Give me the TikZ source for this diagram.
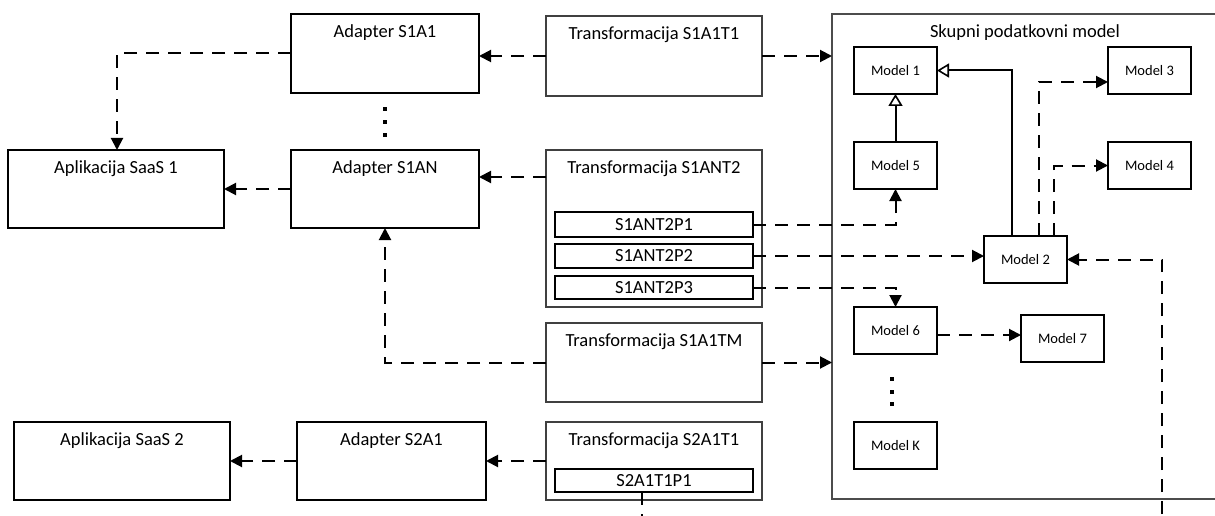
\documentclass[tikz,border=0pt]{standalone}
\usepackage{fontspec}
\setmainfont{Carlito}
\usetikzlibrary{arrows.meta}
\newcommand\bigtxt{\fontsize{18.5pt}{22pt}\selectfont}
\newcommand\smalltxt{\fontsize{14.5pt}{17pt}\selectfont}
\begin{document}
\begin{tikzpicture}[x=1pt,y=-1pt,
  sz/.style 2 args={minimum width=#1pt, minimum height=#2pt},
  basebox/.style={draw, anchor=north west, inner sep=0pt, outer sep=0pt},
  appbox/.style={basebox, line width=1.4pt},
  tbox/.style={basebox, line width=1.3pt, draw=black!75},
  pbox/.style={basebox, line width=1.3pt, font=\bigtxt},
  mbox/.style={basebox, line width=1.8pt, font=\smalltxt, sz={83}{47}},
  bigbox/.style={basebox, line width=1.2pt, draw=black!70},
  titled/.style={label={[anchor=center, yshift=-19pt, font=\bigtxt]north:#1}},
  conn/.style={line width=2pt, dash pattern=on 13pt off 9pt,
    -{Triangle[length=12pt, width=12pt]}},
  inh/.style={line width=2pt, -{Triangle[open, length=12pt, width=14pt, line width=1.6pt]}},
  dot/.style={fill=black}
]
\useasboundingbox (0,0) rectangle (1215,516);
\clip (0,0) rectangle (1215,516);

% applications and adapters
\node[appbox, sz={216}{78}, titled={Aplikacija SaaS 1}] (sa1) at (8,150) {};
\node[appbox, sz={188}{79}, titled={Adapter S1A1}] (a1) at (291,14) {};
\node[appbox, sz={188}{78}, titled={Adapter S1AN}] (aN) at (291,150) {};
\node[appbox, sz={216}{78}, titled={Aplikacija SaaS 2}] (sa2) at (14,422) {};
\node[appbox, sz={189}{78}, titled={Adapter S2A1}] (s2a) at (297,422) {};

% transformations
\node[tbox, sz={216}{80}, titled={Transformacija S1A1T1}] (t1) at (546,16) {};
\node[tbox, sz={216}{157}, titled={Transformacija S1ANT2}] (t2) at (546,150) {};
\node[pbox, sz={198}{25}] (p1) at (555,212) {S1ANT2P1};
\node[pbox, sz={198}{24}] (p2) at (555,244) {S1ANT2P2};
\node[pbox, sz={198}{23}] (p3) at (555,276) {S1ANT2P3};
\node[tbox, sz={216}{79}, titled={Transformacija S1A1TM}] (tm) at (546,323) {};
\node[tbox, sz={216}{78}, titled={Transformacija S2A1T1}] (s2t) at (546,422) {};
\node[pbox, sz={198}{23}] (s2p) at (555,469) {S2A1T1P1};

% shared data model
\node[bigbox, sz={390}{485},
  label={[anchor=center, yshift=-19pt, xshift=-2pt, font=\bigtxt]north:Skupni podatkovni model}]
  (big) at (832,14) {};
\node[mbox] (m1) at (854,47) {Model 1};
\node[mbox] (m3) at (1108,47) {Model 3};
\node[mbox] (m5) at (854,142) {Model 5};
\node[mbox] (m4) at (1108,142) {Model 4};
\node[mbox] (m2) at (984,236) {Model 2};
\node[mbox] (m6) at (854,307) {Model 6};
\node[mbox] (m7) at (1021,315) {Model 7};
\node[mbox] (mk) at (854,422) {Model K};

% ellipses
\foreach \y in {109,122,135} \fill[dot] (383.3,\y-1.7) rectangle ++(3.4,3.4);
\foreach \y in {379,392,404} \fill[dot] (890.3,\y-1.7) rectangle ++(3.4,3.4);

% adapters to applications
\draw[conn] (a1.west) -| ([xshift=109pt]sa1.north west);
\draw[conn] (aN.west) -- (sa1.east);
\draw[conn] (s2a.west) -- (sa2.east);

% transformations to adapters
\draw[conn] (t1.west) -- (t1.west -| a1.east);
\draw[conn] ([yshift=-27pt]t2.north west) -- ([yshift=-27pt]t2.north west -| aN.east);
\draw[conn] (tm.west) -| (aN.south);
\draw[conn] (s2t.west) -- (s2a.east);

% transformations to the data model
\draw[conn] (t1.east) -- (t1.east -| big.west);
\draw[conn] (tm.east) -- (tm.east -| big.west);
\draw[conn] (p1.east) -| (m5.south);
\draw[conn] (p2.east) -- (p2.east -| m2.west);
\draw[conn] (p3.east) -| (m6.north);
\coordinate (loop) at (1162,540);
\draw[conn] ([xshift=-12pt]s2p.south) |- (loop) |- (m2.east);

% relations between models
\draw[inh] (m5.north) -- (m1.south);
\draw[inh] ([xshift=-13.5pt]m2.north) |- (m1.east);
\draw[conn] ([xshift=13.5pt]m2.north) |- ([yshift=-11.5pt]m3.west);
\draw[conn] ([xshift=28.5pt]m2.north) |- (m4.west);
\draw[conn] ([yshift=-4.5pt]m6.east) -- ([yshift=-4.5pt]m6.east -| m7.west);
\end{tikzpicture}
\end{document}
